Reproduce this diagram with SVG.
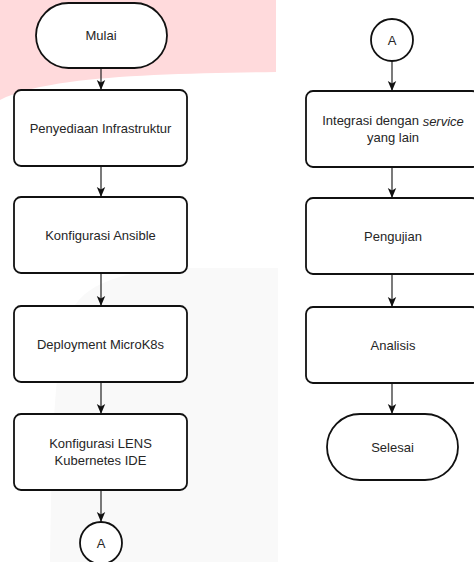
<svg xmlns="http://www.w3.org/2000/svg" width="474" height="562" viewBox="0 0 474 562">
  <style>
    .shape { fill: #ffffff; stroke: #111111; stroke-width: 1.8; }
    .lbl { font-family: "Liberation Sans", Arial, sans-serif; font-size: 13px; fill: #262626; text-anchor: middle; dominant-baseline: central; }
    .conn { stroke: #222222; stroke-width: 1.2; fill: none; marker-end: url(#arrow); }
  </style>
  <defs>
    <marker id="arrow" markerUnits="userSpaceOnUse" markerWidth="10" markerHeight="10" viewBox="0 0 10 10" refX="10" refY="5" orient="auto">
      <path d="M0,0.8 L10,5 L0,9.2 L2.5,5 Z" fill="#111111"/>
    </marker>
  </defs>
  <rect x="0" y="0" width="474" height="562" fill="#ffffff"/>
  <g id="background">
    <path d="M0,0 H276 V72 C200,73 120,75 70,82 C40,86 15,92 0,100 Z" fill="#ffdadc"/>
    <path d="M278,268 V562 H50 C52,420 55,340 75,305 C95,275 150,268 200,268 Z" fill="#f9f9f9"/>
  </g>
  <g id="connectors">
    <line class="conn" x1="101" y1="68" x2="101" y2="90"/>
    <line class="conn" x1="101" y1="166" x2="101" y2="197"/>
    <line class="conn" x1="101" y1="273" x2="101" y2="306"/>
    <line class="conn" x1="101" y1="382" x2="101" y2="414"/>
    <line class="conn" x1="101" y1="490" x2="101" y2="522"/>
    <line class="conn" x1="392" y1="61" x2="392" y2="91"/>
    <line class="conn" x1="392" y1="167" x2="392" y2="198"/>
    <line class="conn" x1="392" y1="274" x2="392" y2="307"/>
    <line class="conn" x1="392" y1="383" x2="392" y2="414"/>
  </g>
  <g id="mulai">
    <rect class="shape" x="36" y="3" width="131" height="65" rx="32.5" ry="32.5"/>
    <text class="lbl" x="101" y="35.5">Mulai</text>
  </g>
  <g id="penyediaan">
    <rect class="shape" x="14" y="90" width="173" height="76" rx="7"/>
    <text class="lbl" x="100.5" y="128">Penyediaan Infrastruktur</text>
  </g>
  <g id="ansible">
    <rect class="shape" x="14" y="197" width="173" height="76" rx="7"/>
    <text class="lbl" x="100.5" y="235">Konfigurasi Ansible</text>
  </g>
  <g id="microk8s">
    <rect class="shape" x="14" y="306" width="173" height="76" rx="7"/>
    <text class="lbl" x="100.5" y="344">Deployment MicroK8s</text>
  </g>
  <g id="lens">
    <rect class="shape" x="14" y="414" width="173" height="76" rx="7"/>
    <text class="lbl" x="100.5" y="443.5">Konfigurasi LENS</text>
    <text class="lbl" x="100.5" y="460.5">Kubernetes IDE</text>
  </g>
  <g id="a-out">
    <circle class="shape" cx="101" cy="543" r="21"/>
    <text class="lbl" x="101" y="543">A</text>
  </g>
  <g id="a-in">
    <circle class="shape" cx="392" cy="40" r="21"/>
    <text class="lbl" x="392" y="40">A</text>
  </g>
  <g id="integrasi">
    <rect class="shape" x="306" y="91" width="173" height="76" rx="7"/>
    <text class="lbl" x="393" y="120.5">Integrasi dengan <tspan font-style="italic">service</tspan></text>
    <text class="lbl" x="393" y="137.5">yang lain</text>
  </g>
  <g id="pengujian">
    <rect class="shape" x="306" y="198" width="173" height="76" rx="7"/>
    <text class="lbl" x="393" y="236">Pengujian</text>
  </g>
  <g id="analisis">
    <rect class="shape" x="306" y="307" width="173" height="76" rx="7"/>
    <text class="lbl" x="393" y="345">Analisis</text>
  </g>
  <g id="selesai">
    <rect class="shape" x="327" y="414" width="131" height="66" rx="33" ry="33"/>
    <text class="lbl" x="392.5" y="447">Selesai</text>
  </g>
</svg>
